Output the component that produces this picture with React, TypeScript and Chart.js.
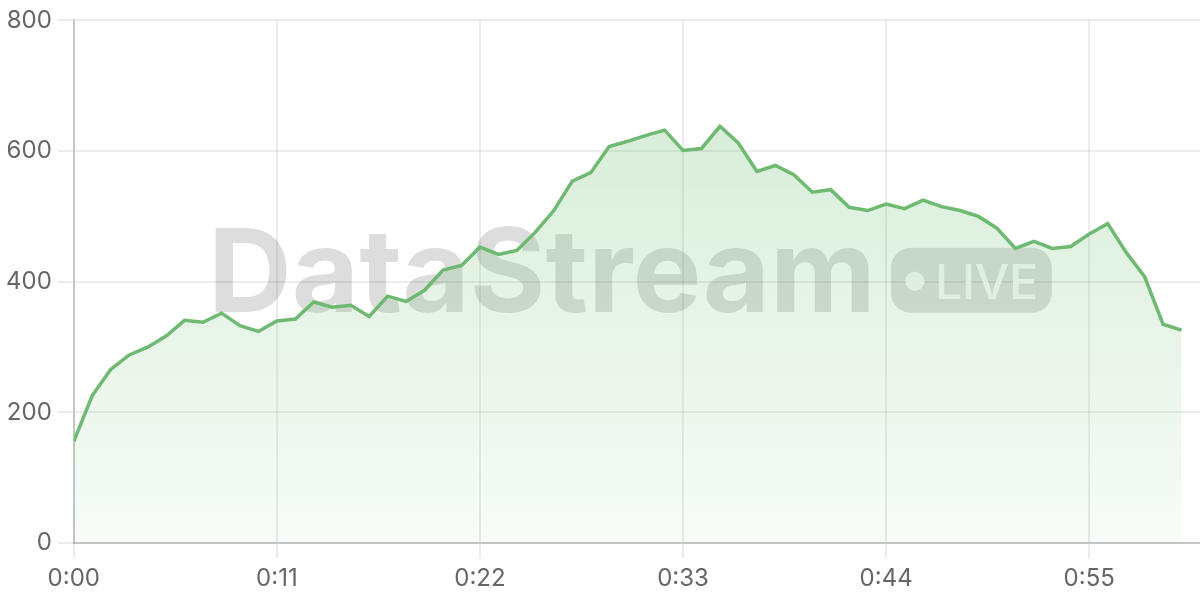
import React, { useEffect, useRef } from "react";
import { Chart, registerables } from "chart.js";

Chart.register(...registerables);

// values per second (0:00 .. 1:00)
const values = [
  156, 226, 266, 288, 300, 317, 341, 338, 352, 333,
  324, 340, 343, 369, 361, 364, 347, 378, 370, 387,
  418, 425, 453, 442, 448, 476, 509, 554, 567, 607,
  615, 624, 632, 601, 604, 638, 612, 569, 578, 564,
  537, 541, 514, 509, 519, 512, 525, 515, 509, 500,
  482, 451, 462, 451, 454, 473, 489, 445, 408, 335,
  326,
];

const tickSeconds = [0, 11, 22, 33, 44, 55];
const tickLabels = ["0:00", "0:11", "0:22", "0:33", "0:44", "0:55"];
const yTicks = [0, 200, 400, 600, 800];

const WATERMARK = "DataStream";
const BADGE = "LIVE";

const FONT = "Inter";

const watermarkPlugin = {
  id: "watermark",
  beforeDatasetsDraw(chart: any) {
    const { ctx, chartArea: a } = chart;
    const cx = (a.left + a.right) / 2;
    const cy = (a.top + a.bottom) / 2;
    ctx.save();
    const bw = 161;
    const bh = 65;
    const bx = cx + 254;
    const by = cy - 34;
    ctx.fillStyle = "rgba(0,0,0,0.135)";
    ctx.font = `700 116px ${FONT}`;
    ctx.textAlign = "right";
    ctx.textBaseline = "alphabetic";
    ctx.fillText(WATERMARK, bx - 15, cy + 30);
    ctx.beginPath();
    ctx.roundRect(bx, by, bw, bh, 20);
    ctx.fill();
    ctx.fillStyle = "rgba(255,255,255,0.85)";
    ctx.beginPath();
    ctx.arc(bx + 24, cy - 0.5, 9.5, 0, Math.PI * 2);
    ctx.fill();
    ctx.font = `500 48px ${FONT}`;
    ctx.textAlign = "left";
    ctx.fillText(BADGE, bx + 44, cy + 17.5);
    ctx.restore();
  },
};

export default function App() {
  const ref = useRef<HTMLCanvasElement | null>(null);

  useEffect(() => {
    if (!ref.current) return;
    const chart = new Chart(ref.current, {
      type: "line",
      data: {
        datasets: [
          {
            data: values.map((v, i) => ({ x: i, y: v })),
            borderColor: "rgb(110,186,114)",
            borderWidth: 3.5,
            pointRadius: 0,
            tension: 0,
            fill: "origin",
            backgroundColor: (c: any) => {
              const area = c.chart.chartArea;
              if (!area) return "rgba(102,187,106,0.15)";
              const g = c.chart.ctx.createLinearGradient(0, area.top, 0, area.bottom);
              g.addColorStop(0, "rgba(102,187,106,0.30)");
              g.addColorStop(1, "rgba(102,187,106,0.05)");
              return g;
            },
          },
        ],
      },
      options: {
        animation: false,
        responsive: false,
        layout: { padding: { top: 6, left: 0, right: 0, bottom: 1 } },
        plugins: {
          legend: { display: false },
          tooltip: { enabled: false },
        },
        scales: {
          x: {
            type: "linear",
            min: 0,
            max: 61,
            afterBuildTicks: (s: any) => {
              s.ticks = tickSeconds.map((v) => ({ value: v }));
            },
            ticks: {
              autoSkip: false,
              maxRotation: 0,
              padding: 6,
              color: "#666",
              font: { family: FONT, size: 24 },
              callback: (v: any) => {
                const idx = tickSeconds.indexOf(Number(v));
                return idx >= 0 ? tickLabels[idx] : "";
              },
            },
            grid: { color: "rgba(0,0,0,0.075)", lineWidth: 2, tickLength: 15 },
            border: { color: "rgba(0,0,0,0.17)", width: 2 },
          },
          y: {
            min: 0,
            max: 800,
            afterBuildTicks: (s: any) => {
              s.ticks = yTicks.map((v) => ({ value: v }));
            },
            ticks: {
              padding: 6,
              color: "#666",
              font: { family: FONT, size: 24 },
            },
            grid: { color: "rgba(0,0,0,0.075)", lineWidth: 2, tickLength: 16 },
            border: { color: "rgba(0,0,0,0.17)", width: 2 },
          },
        },
      },
      plugins: [watermarkPlugin],
    });
    return () => chart.destroy();
  }, []);

  return (
    <div style={{ position: "absolute", left: 0, top: 0, width: 1200, height: 600, background: "#fff" }}>
      <canvas ref={ref} width={1200} height={600} style={{ display: "block" }} />
    </div>
  );
}
